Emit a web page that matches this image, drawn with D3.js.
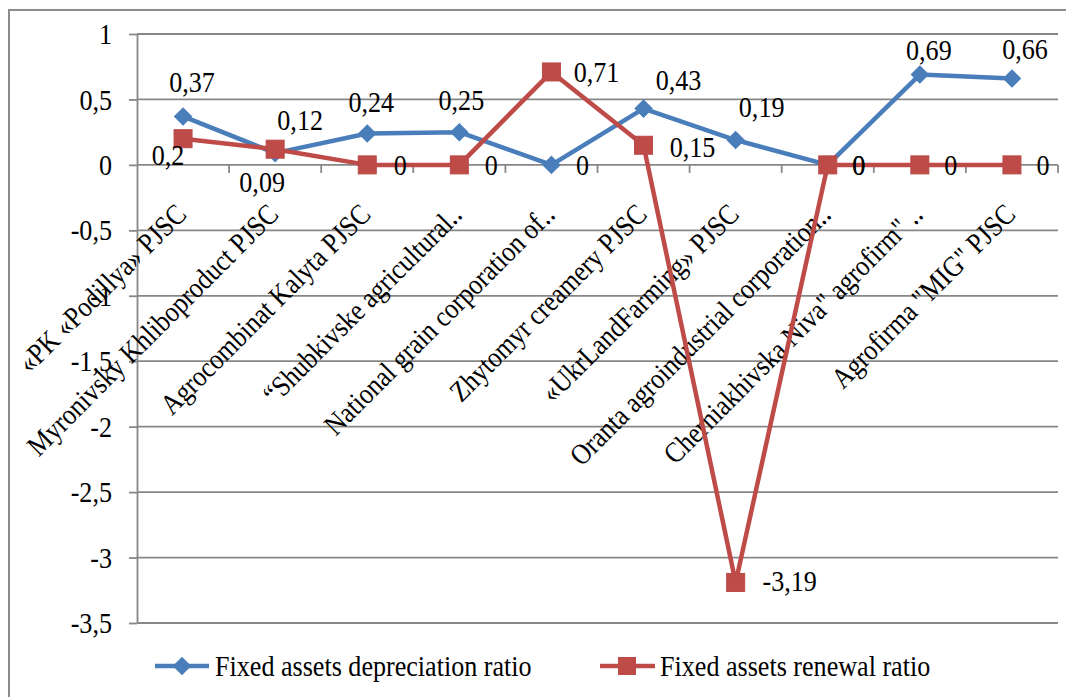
<!DOCTYPE html>
<html>
<head>
<meta charset="utf-8">
<script src="https://cdn.jsdelivr.net/npm/d3@7"></script>
<style>
  body { margin: 0; background: #fff; }
  svg { display: block; font-family: "Liberation Serif", "Times New Roman", serif; }
</style>
</head>
<body>
<div id="figure"></div>
<script>
// categories (companies)
const companies = [
  '«PK «Podillya» PJSC',
  'Myronivsky Khliboproduct PJSC',
  'Agrocombinat Kalyta PJSC',
  '“Shubkivske agricultural‥',
  'National grain corporation of‥',
  'Zhytomyr creamery PJSC',
  '«UkrLandFarming» PJSC',
  'Oranta agroindustrial corporation‥',
  'Cherniakhivska Niva" agrofirm" ‥',
  'Agrofirma "MIG" PJSC'
]

// series values
const depreciation = [0.37, 0.09, 0.24, 0.25, 0, 0.43, 0.19, 0, 0.69, 0.66]
const renewal = [0.2, 0.12, 0, 0, 0.71, 0.15, -3.19, 0, 0, 0]

// y tick labels
const yTicks = [1, 0.5, 0, -0.5, -1, -1.5, -2, -2.5, -3, -3.5]

const seriesNames = ['Fixed assets depreciation ratio', 'Fixed assets renewal ratio']

// where each data label sits relative to its point (manual, like the source)
const depLabelPos = [[9, -24], [-13, 39], [4, -21], [2, -22], [31, 10], [35, -19], [26, -23], [31, 10], [9, -15], [13, -20]]
const renLabelPos = [[-15, 26], [25, -19], [33, 10], [32, 10], [45, 10], [49, 12], [54, 9], [31, 10], [31, 10], [31, 10]]

const width = 1066
const height = 697
const margin = { TOP: 34, LEFT: 137, RIGHT: 8, BOTTOM: 74 }

const blue = '#4a7ebb'
const red = '#be4b48'
const gridColor = '#878787'
const fs = 29
const squeeze = 'scale(0.9,1)' // the source text is a bit narrow

const svg = d3.select('#figure').append('svg').attr('width', width).attr('height', height)

// outer chart border
svg.append('rect').attr('x', 9).attr('y', 10).attr('width', width + 10).attr('height', height + 10)
  .attr('fill', 'white').attr('stroke', '#8c8c8c').attr('stroke-width', 2)

const x = d3.scaleBand().domain(companies).range([margin.LEFT, width - margin.RIGHT])
const cx = d => x(d) + x.bandwidth() / 2
const y = d3.scaleLinear().domain([-3.5, 1]).range([height - margin.BOTTOM, margin.TOP])

const comma = d3.formatLocale({ decimal: ',', thousands: ' ', grouping: [3], currency: ['', ''], minus: '-' }).format('~g')

// grid lines
svg.append('g').selectAll('line').data(yTicks).enter().append('line')
  .attr('x1', margin.LEFT).attr('x2', width - margin.RIGHT)
  .attr('y1', d => y(d)).attr('y2', d => y(d))
  .attr('stroke', gridColor).attr('stroke-width', 1.8)

// y axis
const yAxis = svg.append('g').attr('transform', `translate(${margin.LEFT},0)`)
  .call(d3.axisLeft(y).tickValues(yTicks).tickFormat(comma).tickSizeInner(8).tickSizeOuter(0).tickPadding(17))
yAxis.attr('font-family', null).attr('font-size', null)
yAxis.select('.domain').attr('stroke', gridColor).attr('stroke-width', 1.8)
yAxis.selectAll('.tick line').attr('stroke', gridColor).attr('stroke-width', 1.8)
yAxis.selectAll('.tick text').attr('x', null).attr('transform', 'translate(-25,0) ' + squeeze)
  .attr('font-size', fs).attr('fill', '#000').attr('dy', '0.33em')

// category tick marks on the zero line, at the band edges
svg.append('g').selectAll('line').data(companies).enter().append('line')
  .attr('x1', d => x(d) + x.bandwidth()).attr('x2', d => x(d) + x.bandwidth())
  .attr('y1', y(0)).attr('y2', y(0) + 8)
  .attr('stroke', gridColor).attr('stroke-width', 1.8)

// category labels
svg.append('g').selectAll('text').data(companies).enter().append('text')
  .attr('transform', d => `translate(${cx(d) + 5},216) rotate(-45) scale(0.88,1)`)
  .attr('text-anchor', 'end').attr('font-size', fs).text(d => d)

// lines
const line = vals => d3.line().x((d, i) => cx(companies[i])).y(d => y(d))(vals)

svg.append('path').attr('d', line(depreciation)).attr('fill', 'none').attr('stroke', blue).attr('stroke-width', 4.5).attr('stroke-linejoin', 'round')
svg.append('path').attr('d', line(renewal)).attr('fill', 'none').attr('stroke', red).attr('stroke-width', 4.5).attr('stroke-linejoin', 'round')

// markers
const diamond = d3.symbol().type(d3.symbolDiamond2).size(220)
svg.append('g').selectAll('path').data(depreciation).enter().append('path')
  .attr('d', diamond)
  .attr('transform', (d, i) => `translate(${cx(companies[i])},${y(d)})`)
  .attr('fill', blue)

svg.append('g').selectAll('rect').data(renewal).enter().append('rect')
  .attr('x', (d, i) => cx(companies[i]) - 9).attr('y', d => y(d) - 9)
  .attr('width', 18).attr('height', 18)
  .attr('fill', red).attr('stroke', '#b94a47').attr('stroke-width', 1)

// data labels
svg.append('g').selectAll('text').data(depreciation).enter().append('text')
  .attr('transform', (d, i) => `translate(${cx(companies[i]) + depLabelPos[i][0]},${y(d) + depLabelPos[i][1]}) ${squeeze}`)
  .attr('text-anchor', 'middle').attr('font-size', fs).text(d => comma(d))

svg.append('g').selectAll('text').data(renewal).enter().append('text')
  .attr('transform', (d, i) => `translate(${cx(companies[i]) + renLabelPos[i][0]},${y(d) + renLabelPos[i][1]}) ${squeeze}`)
  .attr('text-anchor', 'middle').attr('font-size', fs).text(d => comma(d))

// legend
const legend = svg.append('g').attr('transform', 'translate(0,666)')
const lg1 = legend.append('g').attr('transform', 'translate(155,0)')
lg1.append('line').attr('x1', 0).attr('x2', 54).attr('stroke', blue).attr('stroke-width', 4.5)
lg1.append('path').attr('d', diamond).attr('transform', 'translate(27,0)').attr('fill', blue)
lg1.append('text').attr('transform', 'translate(60,0) ' + squeeze).attr('dy', '0.33em').attr('font-size', fs).text(seriesNames[0])

const lg2 = legend.append('g').attr('transform', 'translate(600,0)')
lg2.append('line').attr('x1', 0).attr('x2', 55).attr('stroke', red).attr('stroke-width', 4.5)
lg2.append('rect').attr('x', 18).attr('y', -9).attr('width', 18).attr('height', 18).attr('fill', red)
lg2.append('text').attr('transform', 'translate(60,0) ' + squeeze).attr('dy', '0.33em').attr('font-size', fs).text(seriesNames[1])
</script>
</body>
</html>
